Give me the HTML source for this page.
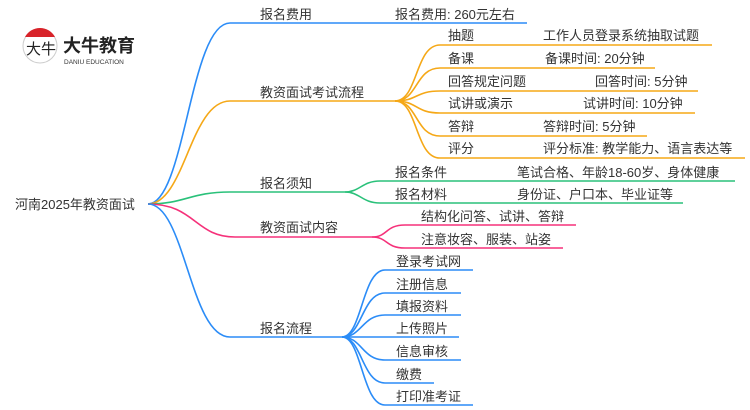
<!DOCTYPE html>
<html><head><meta charset="utf-8"><style>
html,body{margin:0;padding:0;background:#fff;width:750px;height:410px;overflow:hidden}
text{font-family:"Liberation Sans","Noto Sans CJK SC",sans-serif;font-size:13px;fill:#333}
</style></head><body>
<svg width="750" height="410" viewBox="0 0 750 410" xmlns="http://www.w3.org/2000/svg">
<g fill="none" stroke-width="1.6">
<path d="M148 204 C185 204,190 23,230 23 L527 23" stroke="#2b8cf7"/>
<path d="M148 204 C185 204,190 101,230 101 L395 101" stroke="#f5a817"/>
<g stroke="#f5a817">
<path d="M395 101 C418 101,415 45,440 45 L712 45"/>
<path d="M395 101 C418 101,415 68,440 68 L655 68"/>
<path d="M395 101 C418 101,415 91,440 91 L698 91"/>
<path d="M395 101 C418 101,415 113,440 113 L695 113"/>
<path d="M395 101 C418 101,415 136,440 136 L647 136"/>
<path d="M395 101 C418 101,415 158,440 158 L745 158"/>
</g>
<g stroke="#2ac17a">
<path d="M148 204 C185 204,190 192,230 192 L345 192"/>
<path d="M345 192 C360 192,362 181,380 181 L735 181"/>
<path d="M345 192 C360 192,362 203,380 203 L683 203"/>
</g>
<g stroke="#f5317a">
<path d="M148 204 C195 204,195 237,235 237 L372 237"/>
<path d="M372 237 C388 237,385 225,405 225 L576 225"/>
<path d="M372 237 C388 237,385 248,405 248 L563 248"/>
</g>
<g stroke="#2b8cf7">
<path d="M148 204 C185 204,190 337,230 337 L342 337"/>
<path d="M342 337 C362 337,362 270,385 270 L473 270"/>
<path d="M342 337 C362 337,362 293,385 293 L461 293"/>
<path d="M342 337 C362 337,362 315,385 315 L461 315"/>
<path d="M342 337 L459 337"/>
<path d="M342 337 C362 337,362 360,385 360 L461 360"/>
<path d="M342 337 C362 337,362 383,385 383 L434 383"/>
<path d="M342 337 C362 337,362 405,385 405 L473 405"/>
</g>
</g>
<circle cx="40" cy="46" r="17" fill="#fff" stroke="#ccc" stroke-width="1"/>
<path d="M25 37 A17 17 0 0 1 55 37 Z" fill="#d8232a"/>
<text x="26" y="54" style="font-size:15px;fill:#222">大牛</text>
<text x="63" y="52" style="font-size:18px;font-weight:bold;fill:#222">大牛教育</text>
<text x="64" y="64" style="font-size:6.5px;fill:#333">DANIU EDUCATION</text>
<text x="15" y="209">河南2025年教资面试</text>
<text x="260" y="19">报名费用</text>
<text x="395" y="19">报名费用: 260元左右</text>
<text x="260" y="97">教资面试考试流程</text>
<text x="448" y="40">抽题</text><text x="543" y="40">工作人员登录系统抽取试题</text>
<text x="448" y="63">备课</text><text x="545" y="63">备课时间: 20分钟</text>
<text x="448" y="86">回答规定问题</text><text x="595" y="86">回答时间: 5分钟</text>
<text x="448" y="108">试讲或演示</text><text x="583" y="108">试讲时间: 10分钟</text>
<text x="448" y="131">答辩</text><text x="543" y="131">答辩时间: 5分钟</text>
<text x="448" y="153">评分</text><text x="543" y="153">评分标准: 教学能力、语言表达等</text>
<text x="260" y="188">报名须知</text>
<text x="395" y="177">报名条件</text><text x="517" y="177">笔试合格、年龄18-60岁、身体健康</text>
<text x="395" y="199">报名材料</text><text x="517" y="199">身份证、户口本、毕业证等</text>
<text x="260" y="232">教资面试内容</text>
<text x="421" y="221">结构化问答、试讲、答辩</text>
<text x="421" y="244">注意妆容、服装、站姿</text>
<text x="260" y="333">报名流程</text>
<text x="396" y="266">登录考试网</text>
<text x="396" y="289">注册信息</text>
<text x="396" y="311">填报资料</text>
<text x="396" y="333">上传照片</text>
<text x="396" y="356">信息审核</text>
<text x="396" y="379">缴费</text>
<text x="396" y="401">打印准考证</text>
</svg>
</body></html>
